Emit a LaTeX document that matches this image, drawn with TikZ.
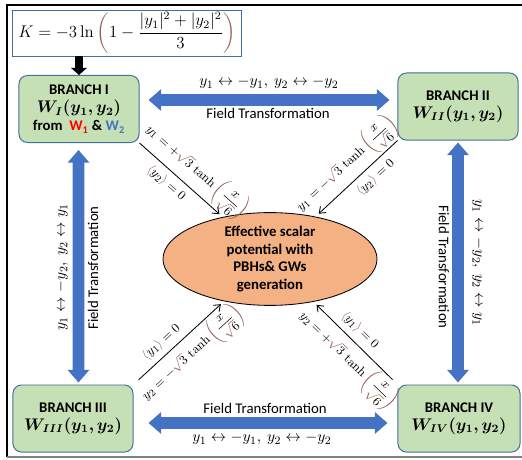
\documentclass[tikz,border=0pt]{standalone}
\usepackage{amsmath,bm}
\usepackage[no-math]{fontspec}
\setmainfont{Carlito}
\usetikzlibrary{shapes,arrows.meta,positioning,calc}
\definecolor{boxgreen}{RGB}{197,224,180}
\definecolor{boxedge}{RGB}{65,113,156}
\definecolor{fieldblue}{RGB}{68,114,196}
\definecolor{potorange}{RGB}{244,177,131}
\definecolor{mbrown}{RGB}{150,95,85}
\newcommand{\brsq}[1]{{\color{mbrown}\sqrt{\color{black}#1}}}
\newcommand{\thx}{\tanh{\color{mbrown}\left(\color{black}\dfrac{x}{\brsq{6}}\color{mbrown}\right)}}
\newcommand{\vev}[1]{{\color{mbrown}\langle}#1{\color{mbrown}\rangle}}
\tikzstyle{bnode} = [rectangle, rounded corners=6pt, draw=boxedge, fill=boxgreen, line width=0.7pt, minimum width=3cm, minimum height=1.675cm, align=center, inner sep=1pt, font=\fontsize{10.5}{13}\selectfont\bfseries]
\tikzstyle{fline} = [draw=fieldblue, line width=8.5pt, {Triangle[length=9pt,width=15pt]}-{Triangle[length=9pt,width=15pt]}]
\tikzstyle{dline} = [draw, line width=0.6pt, -{Straight Barb[length=4pt,width=6pt]}]
\tikzstyle{flabel} = [inner sep=1pt, font=\fontsize{10.5}{12}\selectfont]
\tikzstyle{mlabel} = [inner sep=1pt, font=\fontsize{11}{13}\selectfont]
\tikzstyle{slabel} = [inner sep=0pt, sloped, font=\fontsize{9.5}{11}\selectfont]
\begin{document}
\begin{tikzpicture}[x=0.025cm, y=-0.025cm]
			\useasboundingbox (0,0) rectangle (522,460);
			% frame
			\draw [line width=1.2pt] (540,5) -- (7,5) -- (7,457);
			\draw [gray, line width=0.8pt] (7,457) -- (540,457);

			\node [draw=boxedge, fill=white, line width=0.7pt, minimum width=5.7cm, minimum height=1.15cm, inner sep=0pt, font=\large] (k) at (127,33) {$\displaystyle K=-3\ln{\color{mbrown}\left(\color{black}1-\frac{|y_1|^2+|y_2|^2}{3}\color{mbrown}\right)}$};

			\node [bnode] (b1) at (79,109) {BRANCH I\\{\large$\bm{W_{I}(y_1,y_2)}$}\\from~ {\color{red}W\textsubscript{1}} \& {\color{fieldblue}W\textsubscript{2}}};
			\node [bnode] (b2) at (458,106.5) {BRANCH II\\{\large$\bm{W_{II}(y_1,y_2)}$}};
			\node [bnode] (b3) at (73,418.5) {BRANCH III\\{\large$\bm{W_{III}(y_1,y_2)}$}};
			\node [bnode, minimum width=3.05cm] (b4) at (459,418.5) {BRANCH IV\\{\large$\bm{W_{IV}(y_1,y_2)}$}};

			\node [ellipse, draw, fill=potorange, line width=0.6pt, minimum width=5.35cm, minimum height=2.05cm, inner sep=0pt, align=center, font=\fontsize{10.5}{12.5}\selectfont\bfseries] (ell) at (270,259) {Effective scalar\\potential with\\PBHs\& GWs\\generation};

			\path [draw, line width=5.5pt, -{Triangle[length=5pt,width=11pt]}] (b1.north |- k.south) -- (b1.north);

			\path [fline] ($(b1.east)+(9,-9)$) -- ($(b2.west)+(-8,-6.5)$);
			\path [fline] ($(b3.east)+(15,4.5)$) -- ($(b4.west)+(-10,4.5)$);
			\path [fline] ($(b1.south)+(-0.5,7)$) -- ($(b3.north)+(5.5,-2)$);
			\path [fline] ($(b2.south)+(0,2)$) -- ($(b4.north)+(-1,-2)$);

			\node [mlabel] (t1) at (269,83) {$y_1\leftrightarrow -y_1,\ y_2\leftrightarrow -y_2$};
			\node [flabel] (t2) at (268,113) {Field Transformation};
			\node [flabel] (t3) at (265,408) {Field Transformation};
			\node [mlabel] (t4) at (262,439) {$y_1\leftrightarrow -y_1,\ y_2\leftrightarrow -y_2$};
			\node [mlabel, rotate=90] (t5) at (62,267) {$y_1\leftrightarrow -y_2,\ y_2\leftrightarrow y_1$};
			\node [flabel, rotate=90] (t6) at (93,268) {Field Transformation};
			\node [flabel, rotate=-90] (t7) at (444,267) {Field Transformation};
			\node [mlabel, rotate=-90] (t8) at (478,263) {$y_1\leftrightarrow -y_2,\ y_2\leftrightarrow y_1$};

			\path [dline, shorten >=3pt] (b1.south east) -- (ell)
				node [slabel, pos=0.55, above=1pt] {$y_1=+\brsq{3}\,\thx$}
				node [slabel, pos=0.42, below=4pt] {$\vev{y_2}=0$};
			\path [dline, shorten >=3pt] (b2.south west) -- (ell)
				node [slabel, pos=0.48, above=1pt] {$y_1=-\brsq{3}\,\thx$}
				node [slabel, pos=0.37, below=4pt] {$\vev{y_2}=0$};
			\path [dline, shorten <=5pt, shorten >=3pt] (b3.north east) -- (ell)
				node [slabel, pos=0.4, above=4pt] {$\vev{y_1}=0$}
				node [slabel, pos=0.52, below=1pt] {$y_2=-\brsq{3}\,\thx$};
			\path [dline, shorten <=5pt, shorten >=3pt] (b4.north west) -- (ell)
				node [slabel, pos=0.55, above=4pt] {$\vev{y_1}=0$}
				node [slabel, pos=0.45, below=1pt] {$y_2=+\brsq{3}\,\thx$};
		\end{tikzpicture}
\end{document}
